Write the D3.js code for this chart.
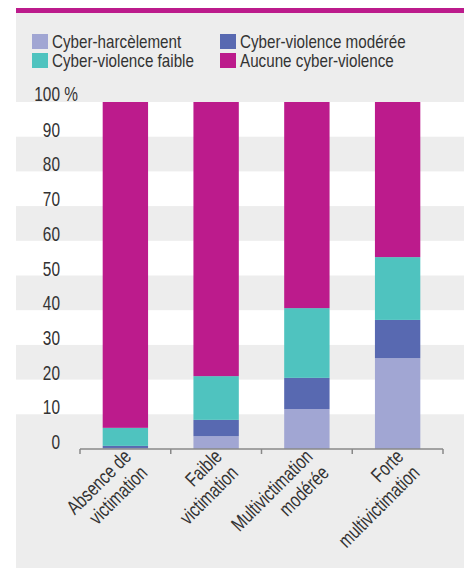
<!DOCTYPE html>
<meta charset="utf-8">
<script src="https://d3js.org/d3.v7.min.js"></script>
<style>
    body { margin: 0; padding: 0; background: #fff; }
    svg text {
        font-family: 'Liberation Sans', Arial, sans-serif;
        fill: #333;
    }
</style>
<body>
<svg width="464" height="569"></svg>
<script>
    // categories (two lines each for the rotated labels)
    var categories = ["Absence de victimation", "Faible victimation", "Multivictimation modérée", "Forte multivictimation"];
    var catLines = [["Absence de", "victimation"], ["Faible", "victimation"], ["Multivictimation", "modérée"], ["Forte", "multivictimation"]];

    // series, bottom to top, in %
    var seriesNames = ["Cyber-harcèlement", "Cyber-violence modérée", "Cyber-violence faible", "Aucune cyber-violence"];
    var harcelement = [0.3, 3.7, 11.5, 26.2];
    var moderee = [0.6, 4.7, 9.0, 11.0];
    var faible = [5.2, 12.6, 20.1, 18.1];
    var aucune = [93.9, 79.0, 59.4, 44.7];
    var seriesColors = ["#a1a6d3", "#5869b1", "#4fc3bf", "#bc1b8c"];

    var yTicks = [0, 10, 20, 30, 40, 50, 60, 70, 80, 90, 100];

    var svg = d3.select("svg");
    var fs = 20;

    // the original uses a condensed face: squeeze Liberation Sans horizontally
    function narrow(sel, k) {
        sel.each(function () {
            var l = this.getComputedTextLength();
            this.setAttribute("textLength", l * (k || 0.77));
            this.setAttribute("lengthAdjust", "spacingAndGlyphs");
        });
    }

    // panel and top rule
    svg.append("rect").attr("x", 16).attr("y", 13).attr("width", 448).attr("height", 555).attr("fill", "#ededed");
    svg.append("rect").attr("x", 16).attr("y", 8).attr("width", 448).attr("height", 5).attr("fill", "#bc1b8c");

    var x = d3.scaleBand().domain(categories).range([80, 443]).paddingInner(0.5).paddingOuter(0.25);
    var y = d3.scaleLinear().domain([0, 100]).range([449, 102]);

    // alternating white bands
    svg.append("g").selectAll("rect")
        .data(yTicks.slice(0, -1).filter(function (d) { return (d / 10) % 2 === 1; }))
        .enter().append("rect")
        .attr("x", 16)
        .attr("width", 448)
        .attr("y", function (d) { return y(d + 10); })
        .attr("height", function (d) { return y(d) - y(d + 10); })
        .attr("fill", "#fff");

    // stacked data
    var table = categories.map(function (c, i) {
        var row = { cat: c };
        row[seriesNames[0]] = harcelement[i];
        row[seriesNames[1]] = moderee[i];
        row[seriesNames[2]] = faible[i];
        row[seriesNames[3]] = aucune[i];
        return row;
    });
    var stacked = d3.stack().keys(seriesNames)(table);

    svg.append("g").selectAll("g")
        .data(stacked)
        .enter().append("g")
        .attr("fill", function (d, i) { return seriesColors[i]; })
        .selectAll("rect")
        .data(function (d) { return d; })
        .enter().append("rect")
        .attr("x", function (d) { return x(d.data.cat); })
        .attr("width", x.bandwidth())
        .attr("y", function (d) { return y(d[1]); })
        .attr("height", function (d) { return y(d[0]) - y(d[1]); });

    // y labels ("100 %" keeps its digits aligned with the others)
    var yl = svg.append("g").attr("font-size", fs);
    yl.selectAll("text")
        .data(yTicks.slice(0, -1))
        .enter().append("text")
        .attr("x", 60)
        .attr("y", function (d) { return y(d); })
        .attr("text-anchor", "end")
        .text(function (d) { return d; })
        .call(narrow);
    var tmp = yl.append("text").text("100");
    var w100 = tmp.node().getComputedTextLength() * 0.77;
    tmp.remove();
    yl.append("text").attr("x", 60 - w100).attr("y", y(100) - 1).text("100 %").call(narrow);

    // x axis line with ticks at band edges
    var edges = categories.map(function (c) { return x(c) - x.step() * x.paddingInner() / 2; });
    edges.push(443);
    var ax = svg.append("g").attr("stroke", "#888").attr("stroke-width", 1.5).attr("fill", "none");
    ax.append("line").attr("x1", 80).attr("x2", 443).attr("y1", y(0)).attr("y2", y(0));
    ax.selectAll(".tk").data(edges).enter().append("line")
        .attr("x1", function (d) { return d; }).attr("x2", function (d) { return d; })
        .attr("y1", y(0)).attr("y2", y(0) + 5);

    // rotated category labels
    var xl = svg.append("g").attr("font-size", fs)
        .selectAll("g")
        .data(categories)
        .enter().append("g")
        .attr("transform", function (d) {
            return "translate(" + (x(d) + x.bandwidth() / 2 + 7) + "," + (y(0) + 9) + ") rotate(-45)";
        });
    xl.selectAll("text")
        .data(function (d, i) { return catLines[i]; })
        .enter().append("text")
        .attr("text-anchor", "end")
        .attr("y", function (d, i) { return i * 23; })
        .text(function (d) { return d; })
        .call(narrow);

    // legend
    var legendPos = [[32, 34], [220, 34], [32, 53], [220, 53]];
    var lg = svg.append("g").attr("font-size", 19);
    var items = lg.selectAll("g")
        .data(seriesNames)
        .enter().append("g")
        .attr("transform", function (d, i) { return "translate(" + legendPos[i][0] + "," + legendPos[i][1] + ")"; });
    items.append("rect").attr("width", 16).attr("height", 15)
        .attr("fill", function (d, i) { return seriesColors[i]; });
    items.append("text").attr("x", 20).attr("y", 14)
        .text(function (d) { return d; })
        .call(narrow, 0.8);
</script>
</body>
